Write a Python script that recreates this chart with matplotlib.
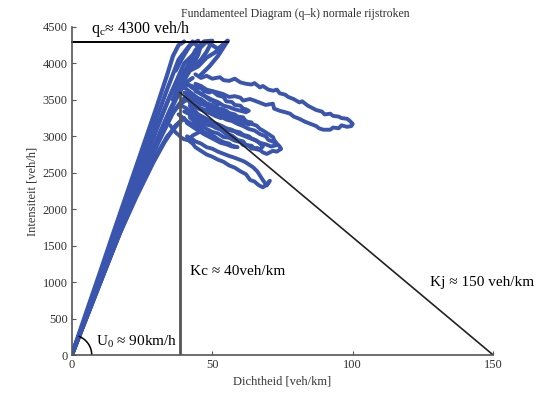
import matplotlib
matplotlib.use("Agg")
import matplotlib.pyplot as plt
import numpy as np

plt.rcParams['font.family'] = ['Liberation Serif', 'DejaVu Serif']

BLUE = '#3a55ad'

# free flow branch (density k [veh/km], intensity q [veh/h])
ff_k = [
    [0, 5, 10, 15, 20, 25, 30, 34, 36, 38, 40],
    [0, 5, 10, 15, 20, 25, 30, 34, 38, 42, 45],
    [0, 6, 12, 18, 24, 30, 35, 40, 44, 48, 52, 55.5],
    [0, 7, 14, 21, 28, 34, 38, 40, 43],
    [0, 7, 14, 20, 26, 31, 36, 39, 41],
    [0, 8, 16, 22, 28, 34, 39],
    [0, 6, 12, 18, 24, 29, 33, 36, 38, 40],
    [0, 9, 17, 23, 29, 33, 37, 40],
    [0, 7, 14, 21, 27, 32, 35, 37, 39, 41],
    [0, 8, 15, 22, 29, 33, 36, 38, 40, 42],
    [37, 39, 41, 43, 45, 47, 50, 48, 46, 44],
    [40, 42, 45, 48, 51, 53, 55.5, 52, 49, 45.6],
    [36, 38, 40, 41, 43, 44, 46, 45, 43, 41, 39],
]
ff_q = [
    [0, 570, 1130, 1700, 2260, 2820, 3380, 3850, 4100, 4250, 4300],
    [0, 540, 1080, 1620, 2160, 2700, 3230, 3650, 4050, 4250, 4310],
    [0, 620, 1250, 1870, 2480, 3080, 3560, 4000, 4150, 4300, 4200, 4310],
    [0, 680, 1370, 2050, 2720, 3260, 3580, 3720, 3800],
    [0, 690, 1380, 1960, 2500, 2930, 3320, 3480, 3560],
    [0, 800, 1580, 2130, 2600, 3000, 3220],
    [0, 630, 1260, 1880, 2500, 2990, 3380, 3640, 3800, 3900],
    [0, 890, 1660, 2170, 2640, 2920, 3150, 3250],
    [0, 710, 1420, 2100, 2660, 3110, 3370, 3520, 3650, 3700],
    [0, 830, 1530, 2190, 2800, 3120, 3330, 3420, 3480, 3520],
    [3900, 4050, 4180, 4300, 4230, 4300, 4310, 4160, 4050, 3980],
    [3780, 3900, 3960, 4080, 4150, 4220, 4310, 4100, 3960, 3830],
    [3500, 3700, 3880, 3950, 4100, 4180, 4260, 4120, 3980, 3840, 3700],
]

# congested branch traces
cg_k = [
    [44, 46, 48, 50, 52.7, 54, 56, 58, 60, 62, 64, 65, 67, 68, 70, 71.7, 73, 74, 76, 77, 79, 81, 82, 84, 85, 87,
     89, 90, 92, 93, 95, 96, 98, 99, 100, 99.5, 98, 96, 95, 93, 92, 89.5, 88, 87, 85, 83, 81, 79, 77.7, 76, 74, 72,
     71.6, 69, 67, 65, 63.4, 61, 60, 58, 56, 53.8, 52, 50, 48, 46, 44],
    [45.6, 47, 49, 50, 52, 54, 55, 57.4, 59, 61, 62, 64, 65.8, 67, 68, 70, 71.7, 72, 73, 74, 74.5, 73, 71.5, 69.4,
     68, 67, 65, 64, 62, 61, 59, 57, 55, 53, 51, 49, 47, 45, 42],
    [42, 44, 45, 47, 48, 50, 52, 54, 56, 58, 59.8, 61, 63, 64, 65.8, 67, 68, 67, 66, 64, 63, 61, 60, 58, 56, 54, 52,
     50, 48, 46, 44, 42],
    [41, 43, 44, 46, 48, 50, 52, 54, 56, 57.4, 59, 61, 62, 64.5, 66, 67, 68, 69.4, 70.5, 69.5, 68, 66.5, 65, 63.5,
     62, 60, 58, 56, 54, 52, 50, 48, 46, 44, 43, 41],
    [35, 36, 37, 38, 39, 40, 41, 42, 43, 45, 46, 44, 42, 40, 38],
    [40, 42, 43, 45, 46, 48, 50, 51, 53, 55, 56, 58, 59, 61, 62, 64, 63, 62, 60, 58, 56, 54, 52, 50, 48, 46, 44, 42],
    [42, 44, 46, 47, 49, 50, 52, 54, 55, 57, 58, 60, 61, 62, 63, 62, 60, 58, 56, 54, 52, 50, 48, 46, 44],
    [43, 45, 47, 49, 51, 53, 55, 57, 59, 61, 63, 65, 67, 69, 70, 72, 73, 71, 69, 67, 65, 63, 61, 59, 57, 55, 53, 51,
     49, 47, 45],
    [39, 41, 42, 44, 46, 47, 49, 51, 52, 54, 56, 57, 59, 57, 55, 53, 51, 49, 47, 45, 43, 41],
    [38, 40, 41, 43, 44, 46, 47, 49, 50, 52, 51, 49, 47, 45, 43, 41, 39],
    [39, 41, 42, 44, 45, 47, 48, 50, 49, 47, 45, 44, 42, 40],
    [41, 43, 44, 46, 48, 49, 51, 53, 54, 53, 51, 49, 47, 45, 43, 41],
]
cg_q = [
    [3850, 3800, 3830, 3790, 3810, 3770, 3760, 3790, 3740, 3720, 3710, 3730, 3670, 3690, 3640, 3625, 3640, 3590,
     3570, 3540, 3510, 3465, 3480, 3420, 3400, 3360, 3340, 3300, 3310, 3280, 3270, 3250, 3240, 3210, 3170, 3140,
     3130, 3150, 3110, 3120, 3090, 3090, 3110, 3140, 3170, 3200, 3240, 3270, 3310, 3330, 3350, 3380, 3447, 3430,
     3460, 3490, 3511, 3490, 3530, 3550, 3540, 3580, 3600, 3620, 3640, 3690, 3720],
    [3490, 3450, 3420, 3390, 3350, 3330, 3290, 3260, 3240, 3200, 3210, 3170, 3146, 3100, 3080, 3030, 2986, 2950,
     2900, 2860, 2827, 2790, 2800, 2758, 2780, 2810, 2830, 2870, 2880, 2930, 2950, 3010, 3030, 3090, 3120, 3180,
     3220, 3300, 3420],
    [3300, 3260, 3230, 3200, 3169, 3140, 3110, 3120, 3080, 3070, 3055, 3020, 3000, 2970, 2941, 2900, 2860, 2820,
     2840, 2830, 2870, 2880, 2920, 2940, 2980, 2990, 3040, 3060, 3100, 3150, 3190, 3260],
    [3000, 2960, 2930, 2900, 2850, 2830, 2790, 2760, 2730, 2713, 2690, 2660, 2640, 2576, 2520, 2460, 2400, 2326,
     2390, 2340, 2300, 2330, 2380, 2400, 2480, 2520, 2570, 2600, 2650, 2680, 2720, 2750, 2800, 2850, 2900, 2960],
    [3150, 3100, 3050, 3020, 2980, 2960, 2950, 2970, 3010, 3050, 3100, 3150, 3180, 3240, 3300],
    [3600, 3570, 3550, 3520, 3510, 3450, 3430, 3380, 3380, 3350, 3320, 3300, 3270, 3260, 3200, 3190, 3160, 3180,
     3170, 3210, 3240, 3260, 3300, 3320, 3360, 3380, 3420, 3460],
    [3700, 3670, 3660, 3620, 3600, 3620, 3560, 3540, 3480, 3470, 3430, 3420, 3380, 3370, 3350, 3330, 3350, 3370,
     3400, 3420, 3470, 3500, 3540, 3580, 3620],
    [3420, 3380, 3350, 3320, 3300, 3270, 3230, 3210, 3170, 3140, 3100, 3080, 3030, 3000, 2950, 2920, 2880, 2860,
     2890, 2910, 2950, 2980, 3010, 3040, 3090, 3110, 3150, 3180, 3220, 3260, 3300],
    [3250, 3200, 3180, 3130, 3100, 3060, 3030, 2990, 2960, 2920, 2900, 2870, 2850, 2860, 2890, 2910, 2950, 2990,
     3030, 3080, 3130, 3180],
    [3800, 3740, 3720, 3660, 3640, 3580, 3560, 3500, 3490, 3430, 3400, 3420, 3470, 3520, 3580, 3640, 3700],
    [3420, 3380, 3350, 3310, 3280, 3250, 3210, 3180, 3150, 3170, 3220, 3240, 3300, 3340],
    [3560, 3510, 3490, 3440, 3420, 3370, 3350, 3300, 3280, 3250, 3280, 3320, 3350, 3400, 3450, 3500],
]

qc = 4300
kc = 38.5
q_top_kc = 3600
kj = 150
k_qc_end = 55.5

fig, ax = plt.subplots(figsize=(5.48, 3.96), dpi=100)
fig.subplots_adjust(left=0.131, right=0.9, bottom=0.1035, top=0.932)

for k, q in zip(ff_k, ff_q):
    ax.plot(k, q, color=BLUE, lw=3, solid_joinstyle='round', solid_capstyle='round')
for k, q in zip(cg_k, cg_q):
    ax.plot(k, q, color=BLUE, lw=2.8, solid_joinstyle='round', solid_capstyle='round')

ax.plot([0, k_qc_end], [qc, qc], color='black', lw=1.4, clip_on=False)
ax.plot([kc, kc], [0, q_top_kc], color='#555555', lw=2)
ax.plot([kc, kj], [q_top_kc, 0], color='#222222', lw=1.2)

# angle arc for U0 at the origin (circular in pixels)
t = np.radians(np.linspace(0, 68, 30))
ax.plot(7.1 * np.cos(t), 274 * np.sin(t), color='black', lw=1.1)

ax.text(7, 4340, r'q$_\mathregular{c}$≈ 4300 veh/h', fontsize=11.5, va='bottom', ha='left', clip_on=False)
ax.text(42, 1150, 'Kc ≈ 40veh/km', fontsize=11, va='center', ha='left')
ax.text(127.5, 1000, 'Kj ≈ 150 veh/km', fontsize=11, va='center', ha='left', clip_on=False)
ax.text(8.5, 180, r'U$_\mathregular{0}$ ≈ 90km/h', fontsize=11, va='center', ha='left')

ax.set_xlim(0, 150)
ax.set_ylim(0, 4500)
ax.set_xticks([0, 50, 100, 150])
ax.set_yticks(range(0, 4501, 500))
ax.tick_params(direction='in', length=3, color='#555555', labelsize=9, labelcolor='#333333', pad=3)
for s in ['top', 'right']:
    ax.spines[s].set_visible(False)
for s in ['left', 'bottom']:
    ax.spines[s].set_color('#555555')
    ax.spines[s].set_linewidth(1.2)

ax.set_xlabel('Dichtheid [veh/km]', fontsize=9, color='#333333', labelpad=3)
ax.set_ylabel('Intensiteit [veh/h]', fontsize=9, color='#333333', labelpad=3)
ax.set_title('Fundamenteel Diagram (q–k) normale rijstroken', fontsize=8.5, color='#333333', pad=7, x=0.53)

fig.savefig('out.png', dpi=100)
